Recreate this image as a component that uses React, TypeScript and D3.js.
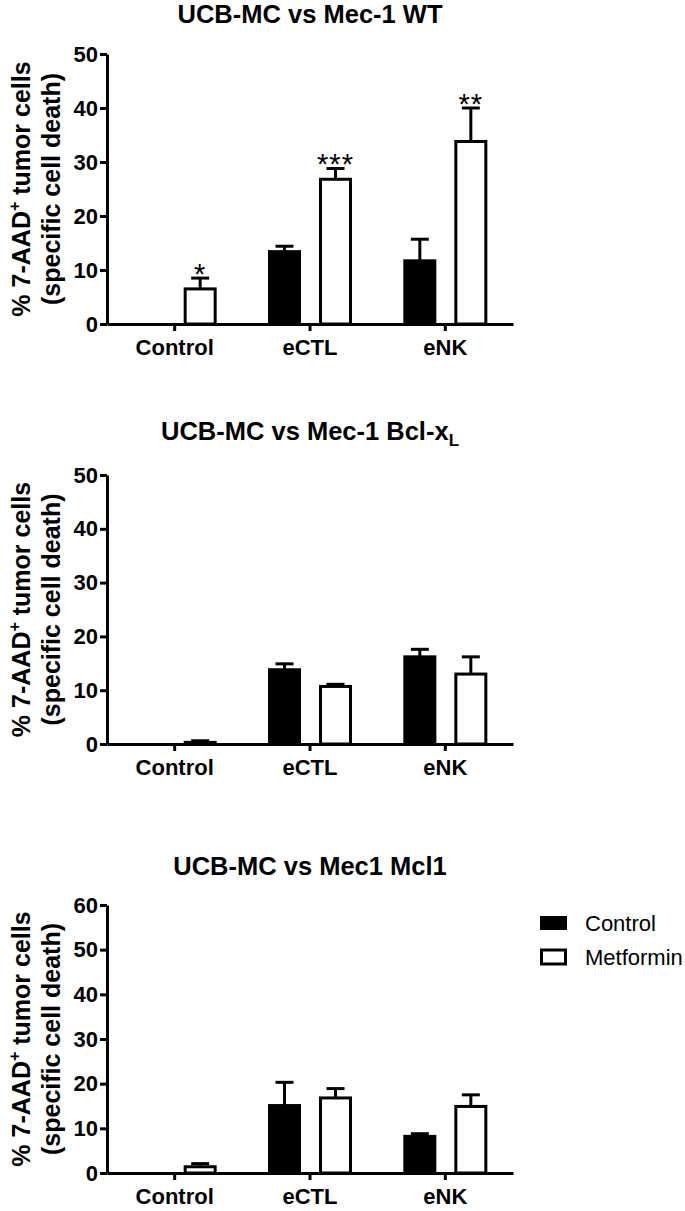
import React, { useEffect, useRef } from 'react';
import * as d3 from 'd3';

const categories = ['Control', 'eCTL', 'eNK'];
const series = ['Control', 'Metformin'];

// UCB-MC vs Mec-1 WT
const wtControl = [0, 13.4, 11.7];
const wtControlErr = [0, 1.0, 4.0];
const wtMetformin = [6.5, 26.8, 33.8];
const wtMetforminErr = [2.0, 2.0, 6.2];
const wtStars = ['*', '***', '**'];

// UCB-MC vs Mec-1 Bcl-xL
const bclControl = [0, 13.8, 16.2];
const bclControlErr = [0, 1.1, 1.4];
const bclMetformin = [0.3, 10.7, 13.0];
const bclMetforminErr = [0.3, 0.4, 3.2];
const bclStars = ['', '', ''];

// UCB-MC vs Mec1 Mcl1
const mclControl = [0, 15.1, 8.2];
const mclControlErr = [0, 5.2, 0.6];
const mclMetformin = [1.4, 16.8, 14.9];
const mclMetforminErr = [0.7, 2.1, 2.6];
const mclStars = ['', '', ''];

const FONT = "'Liberation Sans', Arial, Helvetica, sans-serif";
const X0 = 107;
const X1 = 513;

const Panel = ({ title, titleY, yMax, y0, yTop, control, controlErr, metformin, metforminErr, stars }) => {
  const yAxisRef = useRef(null);
  const xAxisRef = useRef(null);

  const x = d3.scaleBand().domain(categories).range([X0, X1]);
  const inner = d3.scaleBand().domain(series).range([-40.5, 40.5]).paddingInner(21 / 51);
  const y = d3.scaleLinear().domain([0, yMax]).range([y0, yTop]);

  useEffect(() => {
    const ya = d3.select(yAxisRef.current);
    ya.call(d3.axisLeft(y).ticks(yMax / 10).tickSize(7).tickSizeOuter(0).tickPadding(2));
    const xa = d3.select(xAxisRef.current);
    xa.call(d3.axisBottom(x).tickSize(7).tickSizeOuter(0).tickPadding(8));
    [ya, xa].forEach(g => {
      g.selectAll('path, line').attr('stroke', '#000').attr('stroke-width', 3);
      g.selectAll('text')
        .attr('font-family', FONT)
        .attr('font-size', 22)
        .attr('font-weight', 'bold')
        .attr('fill', '#000');
    });
  }, []);

  const yMid = (y0 + yTop) / 2;
  const vals = [control, metformin];
  const errs = [controlErr, metforminErr];

  return (
    <g>
      <text x={(X0 + X1) / 2} y={titleY} textAnchor="middle" fontFamily={FONT} fontSize={25.5} fontWeight="bold">
        {title}
      </text>
      <g fontFamily={FONT} fontSize={25} fontWeight="bold" textAnchor="middle">
        <text transform={`translate(30,${yMid}) rotate(-90)`}>
          % 7-AAD<tspan dy={-10} fontSize={16}>+</tspan><tspan dy={10}> tumor cells</tspan>
        </text>
        <text transform={`translate(60,${yMid}) rotate(-90)`}>(specific cell death)</text>
      </g>
      {series.map((s, si) =>
        categories.map((c, ci) => {
          const v = vals[si][ci];
          const e = errs[si][ci];
          if (v === 0 && e === 0) return null;
          const bx = x(c) + x.bandwidth() / 2 + inner(s);
          const cx = bx + inner.bandwidth() / 2;
          return (
            <g key={s + c}>
              {e > 0 && (
                <g stroke="#000" strokeWidth={3}>
                  <line x1={cx} x2={cx} y1={y(v)} y2={y(v + e)} />
                  <line x1={cx - 9} x2={cx + 9} y1={y(v + e)} y2={y(v + e)} />
                </g>
              )}
              <rect
                x={bx}
                y={y(v)}
                width={inner.bandwidth()}
                height={y0 - y(v)}
                fill={si === 0 ? '#000' : '#fff'}
                stroke="#000"
                strokeWidth={3}
              />
            </g>
          );
        })
      )}
      {categories.map((c, ci) =>
        stars[ci] ? (
          <text
            key={'st' + c}
            x={x(c) + x.bandwidth() / 2 + inner('Metformin') + inner.bandwidth() / 2}
            y={y(metformin[ci] + metforminErr[ci]) + 6}
            textAnchor="middle"
            fontFamily={FONT}
            fontSize={29}
            letterSpacing={1}
          >
            {stars[ci]}
          </text>
        ) : null
      )}
      <g ref={yAxisRef} transform={`translate(${X0},0)`} />
      <g ref={xAxisRef} transform={`translate(0,${y0})`} />
    </g>
  );
};

export default function App() {
  return (
    <svg width={685} height={1211} style={{ position: 'absolute', left: 0, top: 0, background: '#fff' }}>
      <Panel
        title="UCB-MC vs Mec-1 WT"
        titleY={23}
        yMax={50}
        y0={324}
        yTop={54}
        control={wtControl}
        controlErr={wtControlErr}
        metformin={wtMetformin}
        metforminErr={wtMetforminErr}
        stars={wtStars}
      />
      <Panel
        title={<>UCB-MC vs Mec-1 Bcl-x<tspan dy={6} fontSize={17}>L</tspan></>}
        titleY={440}
        yMax={50}
        y0={744}
        yTop={475}
        control={bclControl}
        controlErr={bclControlErr}
        metformin={bclMetformin}
        metforminErr={bclMetforminErr}
        stars={bclStars}
      />
      <Panel
        title="UCB-MC vs Mec1 Mcl1"
        titleY={875}
        yMax={60}
        y0={1173}
        yTop={905}
        control={mclControl}
        controlErr={mclControlErr}
        metformin={mclMetformin}
        metforminErr={mclMetforminErr}
        stars={mclStars}
      />
      <g fontFamily={FONT} fontSize={22}>
        {series.map((s, i) => (
          <g key={s} transform={`translate(0,${923 + i * 34})`}>
            <rect
              x={i === 0 ? 540 : 541.5}
              y={-7}
              width={i === 0 ? 27 : 24}
              height={14}
              fill={i === 0 ? '#000' : '#fff'}
              stroke={i === 0 ? 'none' : '#000'}
              strokeWidth={3}
            />
            <text x={585} y={8}>{s}</text>
          </g>
        ))}
      </g>
    </svg>
  );
}
